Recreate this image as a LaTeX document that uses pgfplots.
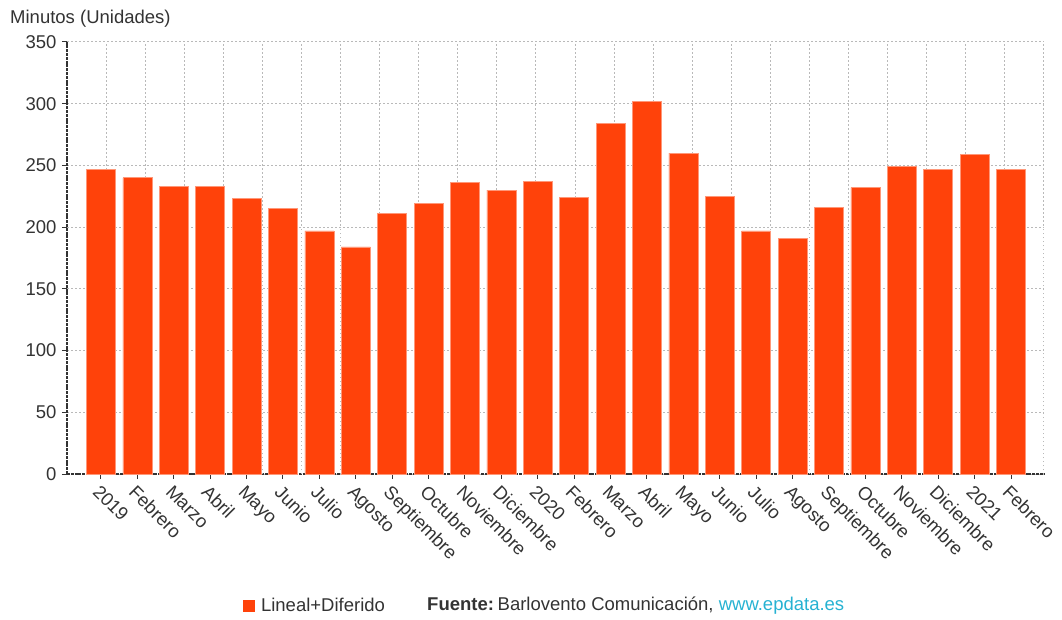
\documentclass[border=0pt]{standalone}
\usepackage{pgfplots}
\pgfplotsset{compat=1.18}
\usepackage{fontspec}
\setmainfont{Liberation Sans}
\definecolor{barc}{RGB}{255,66,10}
\definecolor{txt}{RGB}{51,51,51}
\definecolor{gridc}{RGB}{185,185,185}
\definecolor{linkc}{RGB}{38,178,210}
\newcommand\chartfont{\fontsize{18.5}{22}\selectfont}
\begin{document}
\begin{tikzpicture}
\useasboundingbox (0,0) rectangle (1062pt,619pt);
\begin{axis}[
  at={(67pt,145pt)}, anchor=south west,
  scale only axis, width=977pt, height=432pt,
  xmin=-0.934, xmax=25.907, ymin=0, ymax=350,
  ytick={0,50,...,350},
  xtick={0,...,25},
  xticklabels={2019,Febrero,Marzo,Abril,Mayo,Junio,Julio,Agosto,Septiembre,Octubre,Noviembre,Diciembre,2020,Febrero,Marzo,Abril,Mayo,Junio,Julio,Agosto,Septiembre,Octubre,Noviembre,Diciembre,2021,Febrero},
  axis x line=bottom, axis y line=left,
  axis line style={-, color=txt, line width=1.6pt, dash pattern=on 3pt off 0.8pt},
  tick align=outside, major tick length=5pt,
  tick style={color=txt, line width=1pt},
  ymajorgrids=true,
  major grid style={gridc, line width=1pt, dash pattern=on 1.5pt off 2.5pt},
  extra x ticks={0.140,1.213,2.287,3.360,4.434,5.508,6.581,7.655,8.728,9.802,10.876,11.949,13.023,14.096,15.170,16.244,17.317,18.391,19.464,20.538,21.612,22.685,23.759,24.832,25.906},
  extra x tick labels={},
  extra x tick style={grid=major, major tick length=0pt},
  /pgf/number format/assume math mode=true,
  yticklabel style={font=\chartfont, text=txt, xshift=-2pt},
  xticklabel style={font=\chartfont, text=txt, rotate=-45, anchor=north west},
  ybar, bar width=0.797,
  legend style={at={(0.180,-0.3056)}, anchor=west, draw=none, fill=none, font=\chartfont, text=txt, inner sep=0pt},
  legend image code/.code={\fill[barc, draw=none] (0pt,-6pt) rectangle (12pt,6pt); \path[draw=none, fill=none] (0pt,0pt) -- (16pt,0pt);},
]
\addplot[fill=barc, draw=barc!55!white, line width=0.6pt] coordinates {
(0,247) (1,240) (2,233) (3,233) (4,223) (5,215) (6,197) (7,184) (8,211) (9,219) (10,236) (11,230) (12,237)
(13,224) (14,284) (15,302) (16,260) (17,225) (18,197) (19,191) (20,216) (21,232) (22,249) (23,247) (24,259) (25,247)};
\addlegendentry{Lineal+Diferido}
\end{axis}
\node[anchor=base west, inner sep=0pt, font=\chartfont, text=txt] at (10pt,595pt) {Minutos (Unidades)};
\node[anchor=west, inner sep=0pt, font=\chartfont, text=txt] at (427pt,13pt) {\textbf{Fuente:}\hspace{0.2em}Barlovento Comunicación, \textcolor{linkc}{www.epdata.es}};
\end{tikzpicture}
\end{document}
